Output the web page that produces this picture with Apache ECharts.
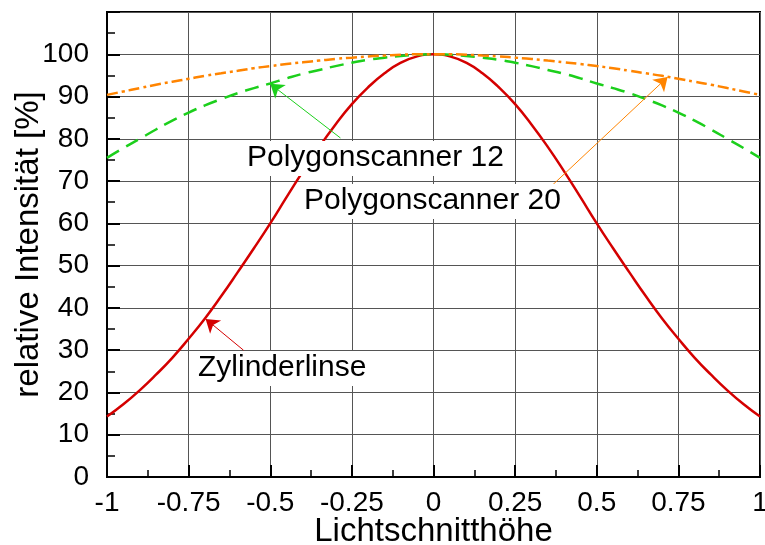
<!DOCTYPE html>
<html>
<head>
<meta charset="utf-8">
<script src="https://cdn.jsdelivr.net/npm/echarts@6/dist/echarts.min.js"></script>
<style>
  html, body { margin: 0; padding: 0; background: #fff; }
  #main { width: 765px; height: 545px; }
</style>
</head>
<body>
<div id="main"></div>
<script>
  // Lichtschnitthöhe (x) von -1 bis 1
  var xWerte = [-1, -0.95, -0.9, -0.85, -0.8, -0.75, -0.7, -0.65, -0.6, -0.55, -0.5,
    -0.45, -0.4, -0.35, -0.3, -0.25, -0.2, -0.15, -0.1, -0.05, 0,
    0.05, 0.1, 0.15, 0.2, 0.25, 0.3, 0.35, 0.4, 0.45, 0.5,
    0.55, 0.6, 0.65, 0.7, 0.75, 0.8, 0.85, 0.9, 0.95, 1];
  // relative Intensität [%]
  var zylinderlinse = [14.3, 17.2, 20.5, 24.2, 28.2, 32.7, 37.5, 42.8, 48.4, 54.1, 60,
    66.2, 72.3, 78.1, 83.4, 88.2, 92.2, 95.5, 98, 99.5, 100,
    99.5, 98, 95.5, 92.2, 88.2, 83.4, 78.1, 72.3, 66.2, 60,
    54.1, 48.4, 42.8, 37.5, 32.7, 28.2, 24.2, 20.5, 17.2, 14.3];
  var polygon12 = [75.5, 77.8, 80, 82.2, 84.3, 86.2, 87.9, 89.4, 90.8, 92, 93.1,
    94.3, 95.4, 96.3, 97.2, 98, 98.7, 99.2, 99.6, 99.9, 100,
    99.9, 99.6, 99.2, 98.7, 98, 97.2, 96.3, 95.4, 94.3, 93.1,
    92, 90.8, 89.4, 87.9, 86.2, 84.3, 82.2, 80, 77.8, 75.5];
  var polygon20 = [90.4, 91.2, 92, 92.8, 93.5, 94.2, 94.9, 95.5, 96.1, 96.7, 97.2,
    97.7, 98.1, 98.5, 98.9, 99.2, 99.5, 99.7, 99.9, 100, 100,
    100, 99.9, 99.7, 99.5, 99.2, 98.9, 98.5, 98.1, 97.7, 97.2,
    96.7, 96.1, 95.5, 94.9, 94.2, 93.5, 92.8, 92, 91.2, 90.4];
  var xTicks = [-1, -0.75, -0.5, -0.25, 0, 0.25, 0.5, 0.75, 1];
  var yTicks = [0, 10, 20, 30, 40, 50, 60, 70, 80, 90, 100];

  // Pfeile der Beschriftungen: [start, spitze]
  var pfeil12 = [[-0.285, 80.2], [-0.5, 93.0]];
  var pfeil20 = [[0.358, 68.6], [0.717, 94.6]];
  var pfeilZyl = [[-0.582, 30.0], [-0.698, 37.4]];

  function paare(ys) {
    return xWerte.map(function(x, i) { return [x, ys[i]]; });
  }

  function pfeil(p, farbe) {
    return {
      silent: true,
      animation: false,
      symbol: ["none", "arrow"],
      symbolSize: 13,
      label: { show: false },
      lineStyle: { color: farbe, width: 1, type: "solid" },
      data: [[{ coord: p[0] }, { coord: p[1] }]]
    };
  }

  var font = "Liberation Sans, Arial, Helvetica, sans-serif";
  var rot = "#d40000";
  var gruen = "#1ccf1c";
  var orange = "#ff8400";

  var chart = echarts.init(document.getElementById("main"));
  chart.setOption({
    animation: false,
    grid: {
      left: 107, right: 5, top: 12, bottom: 68,
      outerBoundsMode: "none",
      containLabel: false,
      show: true, borderColor: "#000", borderWidth: 2
    },
    xAxis: {
      type: "value",
      min: -1, max: 1, interval: 0.25,
      name: "Lichtschnitthöhe",
      nameLocation: "middle",
      nameGap: 38,
      nameMoveOverlap: false,
      nameTextStyle: { fontFamily: font, fontSize: 33, color: "#000" },
      axisLine: { onZero: false, lineStyle: { color: "#000", width: 2 } },
      axisTick: { inside: true, length: 12, lineStyle: { color: "#000", width: 2 } },
      minorTick: { show: true, splitNumber: 2, length: 7, lineStyle: { color: "#000", width: 1.5 } },
      axisLabel: {
        fontFamily: font, fontSize: 28, color: "#000", margin: 12,
        formatter: function(v) { return xTicks.indexOf(v) >= 0 ? String(v) : ""; }
      },
      splitLine: { show: true, lineStyle: { color: "#555", width: 1 } }
    },
    yAxis: {
      type: "value",
      min: 0, max: 110, interval: 10,
      name: "relative Intensität [%]",
      nameLocation: "middle",
      nameGap: 62,
      nameMoveOverlap: false,
      nameTextStyle: { fontFamily: font, fontSize: 33, color: "#000" },
      axisLine: { onZero: false, lineStyle: { color: "#000", width: 2 } },
      axisTick: { inside: true, length: 13, lineStyle: { color: "#000", width: 2 } },
      minorTick: { show: true, splitNumber: 2, length: 8, lineStyle: { color: "#000", width: 1.5 } },
      axisLabel: {
        fontFamily: font, fontSize: 28, color: "#000", margin: 18,
        formatter: function(v) { return yTicks.indexOf(v) >= 0 ? String(v) : ""; }
      },
      splitLine: { show: true, lineStyle: { color: "#555", width: 1 } }
    },
    series: [
      {
        name: "Zylinderlinse",
        type: "line",
        smooth: true,
        showSymbol: false,
        data: paare(zylinderlinse),
        lineStyle: { color: rot, width: 2.5 },
        markLine: pfeil(pfeilZyl, rot),
        z: 3
      },
      {
        name: "Polygonscanner 12",
        type: "line",
        smooth: true,
        showSymbol: false,
        data: paare(polygon12),
        lineStyle: { color: gruen, width: 2.5, type: [14, 8] },
        markLine: pfeil(pfeil12, gruen),
        z: 4
      },
      {
        name: "Polygonscanner 20",
        type: "line",
        smooth: true,
        showSymbol: false,
        data: paare(polygon20),
        lineStyle: { color: orange, width: 2.5, type: [11, 4, 3, 4] },
        markLine: pfeil(pfeil20, orange),
        z: 5
      }
    ],
    graphic: [
      {
        type: "text", left: 240, top: 141, z: 10,
        style: {
          text: "Polygonscanner 12", font: "30px " + font, fill: "#000",
          backgroundColor: "#fff", padding: [2, 6, 3, 7]
        }
      },
      {
        type: "text", left: 297, top: 184, z: 10,
        style: {
          text: "Polygonscanner 20", font: "30px " + font, fill: "#000",
          backgroundColor: "#fff", padding: [2, 6, 3, 7]
        }
      },
      {
        type: "text", left: 191, top: 351, z: 10,
        style: {
          text: "Zylinderlinse", font: "30px " + font, fill: "#000",
          backgroundColor: "#fff", padding: [2, 6, 3, 7]
        }
      }
    ]
  });
</script>
</body>
</html>
